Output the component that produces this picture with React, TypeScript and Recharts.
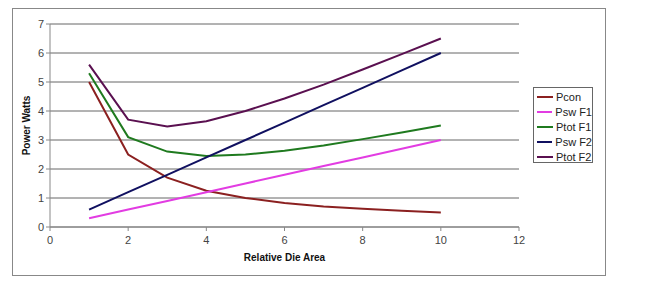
import React from "react";
import { LineChart, Line, XAxis, YAxis, CartesianGrid, Label } from "recharts";

const dieArea = [1, 2, 3, 4, 5, 6, 7, 8, 9, 10];
const pcon = [5.0, 2.5, 1.7, 1.25, 1.0, 0.83, 0.71, 0.63, 0.56, 0.5];
const pswF1 = [0.3, 0.6, 0.9, 1.2, 1.5, 1.8, 2.1, 2.4, 2.7, 3.0];
const ptotF1 = [5.3, 3.1, 2.6, 2.45, 2.5, 2.63, 2.81, 3.03, 3.26, 3.5];
const pswF2 = [0.6, 1.2, 1.8, 2.4, 3.0, 3.6, 4.2, 4.8, 5.4, 6.0];
const ptotF2 = [5.6, 3.7, 3.47, 3.65, 4.0, 4.43, 4.91, 5.43, 5.96, 6.5];
const xTicks = [0, 2, 4, 6, 8, 10, 12];
const yTicks = [0, 1, 2, 3, 4, 5, 6, 7];

const series = [
  { key: "pcon", name: "Pcon", color: "#8b2020", values: pcon },
  { key: "pswF1", name: "Psw F1", color: "#e23ce2", values: pswF1 },
  { key: "ptotF1", name: "Ptot F1", color: "#1f7a1f", values: ptotF1 },
  { key: "pswF2", name: "Psw F2", color: "#101060", values: pswF2 },
  { key: "ptotF2", name: "Ptot F2", color: "#5a1050", values: ptotF2 },
];

const data = dieArea.map((x, i) => {
  const row: any = { x };
  series.forEach((s) => (row[s.key] = s.values[i]));
  return row;
});

const font = "'Liberation Sans', Arial, sans-serif";

const LegendBox = () => (
  <div
    style={{
      position: "absolute",
      left: 533,
      top: 87,
      boxSizing: "border-box",
      width: 60,
      height: 76,
      border: "1px solid #666",
      background: "#fff",
      padding: "1px 0 0 3px",
      fontFamily: font,
      fontSize: 11,
      color: "#222",
    }}
  >
    {series.map((s) => (
      <div key={s.key} style={{ display: "flex", alignItems: "center", height: 15 }}>
        <div style={{ width: 16, height: 2, background: s.color, marginRight: 3 }} />
        <span style={{ whiteSpace: "nowrap" }}>{s.name}</span>
      </div>
    ))}
  </div>
);

export default function App() {
  return (
    <div style={{ position: "fixed", left: 0, top: 0, width: 651, height: 285, background: "#fff" }}>
      <div
        style={{
          position: "absolute",
          left: 12,
          top: 8,
          width: 592,
          height: 266,
          border: "1px solid #888",
        }}
      />
      <div style={{ position: "absolute", left: 0, top: 0 }}>
        <LineChart
          width={651}
          height={285}
          data={data}
          margin={{ top: 24, right: 132, bottom: 28, left: 0 }}
        >
          <CartesianGrid horizontal vertical={false} stroke="#666" strokeWidth={1} />
          <XAxis
            dataKey="x"
            type="number"
            domain={[0, 12]}
            ticks={xTicks}
            height={30}
            stroke="#888"
            tickSize={4}
            tickMargin={5}
            tick={{ fill: "#444", fontSize: 11, fontFamily: font }}
          >
            <Label
              value="Relative Die Area"
              position="insideBottom"
              offset={-4}
              style={{ fill: "#111", fontSize: 10, fontWeight: "bold", fontFamily: font }}
            />
          </XAxis>
          <YAxis
            domain={[0, 7]}
            ticks={yTicks}
            width={50}
            stroke="#888"
            tickSize={4}
            interval={0}
            tick={{ fill: "#444", fontSize: 11, fontFamily: font }}
          >
            <Label
              value="Power Watts"
              angle={-90}
              position="insideLeft"
              offset={26}
              style={{ fill: "#111", fontSize: 10, fontWeight: "bold", fontFamily: font, textAnchor: "middle" }}
            />
          </YAxis>
          {series.map((s) => (
            <Line
              key={s.key}
              dataKey={s.key}
              name={s.name}
              stroke={s.color}
              strokeWidth={2}
              dot={false}
              type="linear"
              isAnimationActive={false}
            />
          ))}
        </LineChart>
      </div>
      <LegendBox />
    </div>
  );
}
